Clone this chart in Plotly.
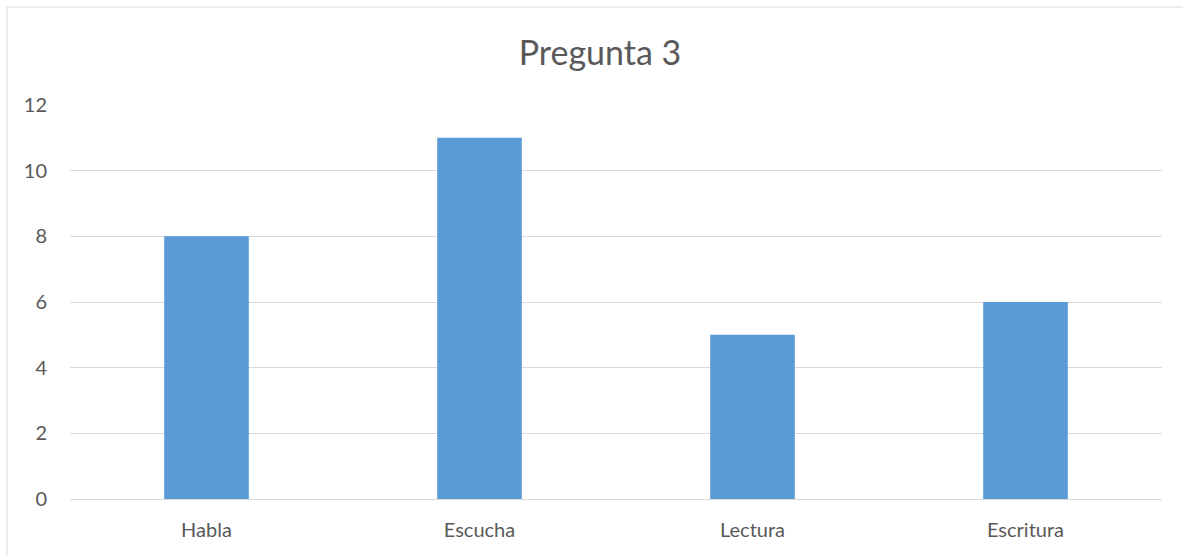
import plotly.graph_objects as go

categories = ["Habla", "Escucha", "Lectura", "Escritura"]
values = [8, 11, 5, 6]
y_ticks = [0, 2, 4, 6, 8, 10, 12]

W, H = 1183, 556
ml, mr, mt, mb = 70, 21, 105, 57
pw, ph = W - ml - mr, H - mt - mb

fig = go.Figure(go.Bar(x=categories, y=values, marker=dict(color="#5B9BD5", line=dict(width=0)), width=0.31))

fig.update_layout(
    width=W, height=H,
    margin=dict(l=ml, r=mr, t=mt, b=mb),
    paper_bgcolor="white", plot_bgcolor="white",
    font=dict(family="Lato, Liberation Sans, sans-serif", color="#595959", size=20),
    title=dict(text="Pregunta 3", x=600 / W, xref="container", xanchor="center",
               y=1 - 53 / H, yref="container", yanchor="middle",
               font=dict(size=34, color="#595959")),
    showlegend=False,
    xaxis=dict(showgrid=False, showline=False, ticks="", ticklabelstandoff=17,
               tickfont=dict(size=20, color="#595959")),
    yaxis=dict(range=[0, 12], tickvals=y_ticks, showgrid=True, gridcolor="#D9D9D9", gridwidth=1,
               zeroline=True, zerolinecolor="#D9D9D9", zerolinewidth=1, showline=False,
               ticks="", ticklabelstandoff=22, tickfont=dict(size=20, color="#595959")),
    shapes=[dict(type="rect", xref="paper", yref="paper",
                 x0=(7 - ml) / pw, x1=(W + 20 - ml) / pw,
                 y0=(mt + ph - (H + 20)) / ph, y1=(mt + ph - 7) / ph,
                 line=dict(color="#D9D9D9", width=1), fillcolor="rgba(0,0,0,0)", layer="below")],
)

fig.write_html("out.html")
